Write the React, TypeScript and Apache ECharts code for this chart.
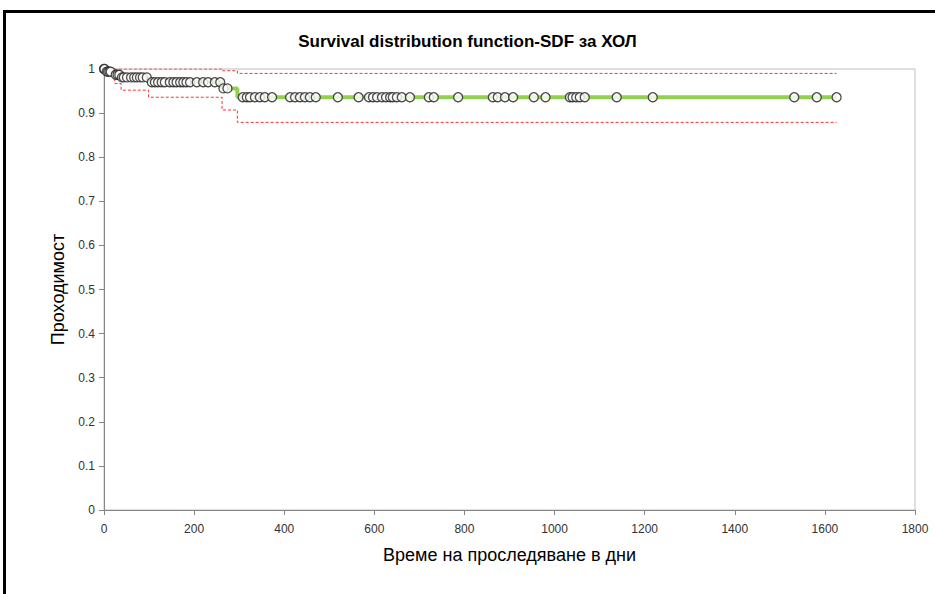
import React, { useEffect, useRef } from "react";
import * as echarts from "echarts";

// Kaplan–Meier estimate (value holds from each time onward)
const kmTime = [0, 4, 24, 38, 99, 262, 296];
const kmSurv = [1.0, 0.994, 0.987, 0.981, 0.97, 0.956, 0.936];
const kmLower = [1.0, 0.985, 0.967, 0.952, 0.936, 0.907, 0.879];
const kmUpper = [1.0, 1.0, 1.0, 1.0, 1.0, 0.996, 0.99];
const endTime = 1626;

// censored observations (days)
const censorTimes = [
  0, 1, 6, 9, 12, 15, 26, 30, 34, 40, 44, 51, 60, 67, 73, 80, 86, 95, 106, 113,
  120, 128, 135, 146, 154, 161, 169, 176, 183, 191, 206, 220, 231, 246, 258,
  265, 274, 308, 317, 324, 335, 346, 357, 373, 413, 424, 435, 446, 457, 470,
  519, 565, 588, 597, 606, 617, 626, 635, 641, 650, 661, 679, 721, 732, 786,
  863, 874, 890, 908, 954, 980, 1034, 1040, 1048, 1056, 1067, 1138, 1218, 1532,
  1582, 1626,
];

const xTicks = [0, 200, 400, 600, 800, 1000, 1200, 1400, 1600, 1800];

const titleText = "Survival distribution function-SDF за ХОЛ";
const yName = "Проходимост";
const xName = "Време на проследяване в дни";

function stepSeries(vals: number[]): [number, number][] {
  const pts: [number, number][] = kmTime.map((t, i) => [t, vals[i]]);
  pts.push([endTime, vals[vals.length - 1]]);
  return pts;
}

function survAt(t: number): number {
  let s = kmSurv[0];
  for (let i = 0; i < kmTime.length; i++) {
    if (kmTime[i] <= t) s = kmSurv[i];
  }
  return s;
}

export default function App() {
  const ref = useRef<HTMLDivElement>(null);
  useEffect(() => {
    if (!ref.current) return;
    const chart = echarts.init(ref.current, undefined, { renderer: "svg" });
    const labelFont = "'Liberation Sans', Arial, sans-serif";
    chart.setOption({
      animation: false,
      backgroundColor: "#ffffff",
      title: {
        text: titleText,
        left: "center",
        top: 28,
        textStyle: {
          fontFamily: "'Liberation Sans', Arial, sans-serif",
          fontSize: 17,
          fontWeight: "bold",
          color: "#000000",
        },
      },
      graphic: [
        {
          type: "rect",
          shape: { x: 4.5, y: 11.5, width: 2000, height: 2000 },
          style: { fill: "none", stroke: "#000000", lineWidth: 3 },
          silent: true,
        },
      ],
      grid: {
        left: 104,
        right: 20,
        top: 69,
        bottom: 84,
        show: true,
        borderColor: "#bfbfbf",
        borderWidth: 1,
        backgroundColor: "transparent",
      },
      xAxis: {
        type: "value",
        min: 0,
        max: 1800,
        interval: 200,
        name: xName,
        nameLocation: "middle",
        nameGap: 36,
        nameTextStyle: { fontFamily: labelFont, fontSize: 18, color: "#000000" },
        axisLine: { show: true, lineStyle: { color: "#868686", width: 1 } },
        axisTick: { show: true, length: 5, lineStyle: { color: "#868686" } },
        axisLabel: {
          margin: 13,
          fontFamily: labelFont,
          fontSize: 12,
          color: "#333333",
          formatter: (v: number) => (xTicks.includes(v) ? String(v) : ""),
        },
        splitLine: { show: false },
      },
      yAxis: {
        type: "value",
        min: 0,
        max: 1,
        interval: 0.1,
        name: yName,
        nameLocation: "middle",
        nameGap: 36,
        nameRotate: 90,
        nameTextStyle: { fontFamily: labelFont, fontSize: 18, color: "#000000" },
        axisLine: { show: true, lineStyle: { color: "#868686", width: 1 } },
        axisTick: { show: true, length: 5, lineStyle: { color: "#868686" } },
        axisLabel: {
          margin: 9,
          fontFamily: labelFont,
          fontSize: 12,
          color: "#333333",
          formatter: (v: number) => String(Math.round(v * 10) / 10),
        },
        splitLine: { show: false },
      },
      series: [
        {
          type: "line",
          name: "upper",
          step: "end",
          data: stepSeries(kmUpper),
          showSymbol: false,
          lineStyle: { color: "#ff3030", width: 1, type: [3, 2] },
          z: 2,
        },
        {
          type: "line",
          name: "lower",
          step: "end",
          data: stepSeries(kmLower),
          showSymbol: false,
          lineStyle: { color: "#ff3030", width: 1, type: [3, 2] },
          z: 2,
        },
        {
          type: "line",
          name: "SDF",
          step: "end",
          data: stepSeries(kmSurv),
          showSymbol: false,
          lineStyle: { color: "#92d050", width: 4 },
          z: 3,
        },
        {
          type: "scatter",
          name: "censored",
          data: censorTimes.map((t) => [t, survAt(t)]),
          symbol: "circle",
          symbolSize: 9,
          clip: false,
          itemStyle: { color: "#ffffff", borderColor: "#222222", borderWidth: 1.3 },
          z: 4,
        },
      ],
    });
    return () => chart.dispose();
  }, []);
  return (
    <div
      ref={ref}
      style={{ position: "fixed", left: 0, top: 0, width: 935, height: 594 }}
    />
  );
}
